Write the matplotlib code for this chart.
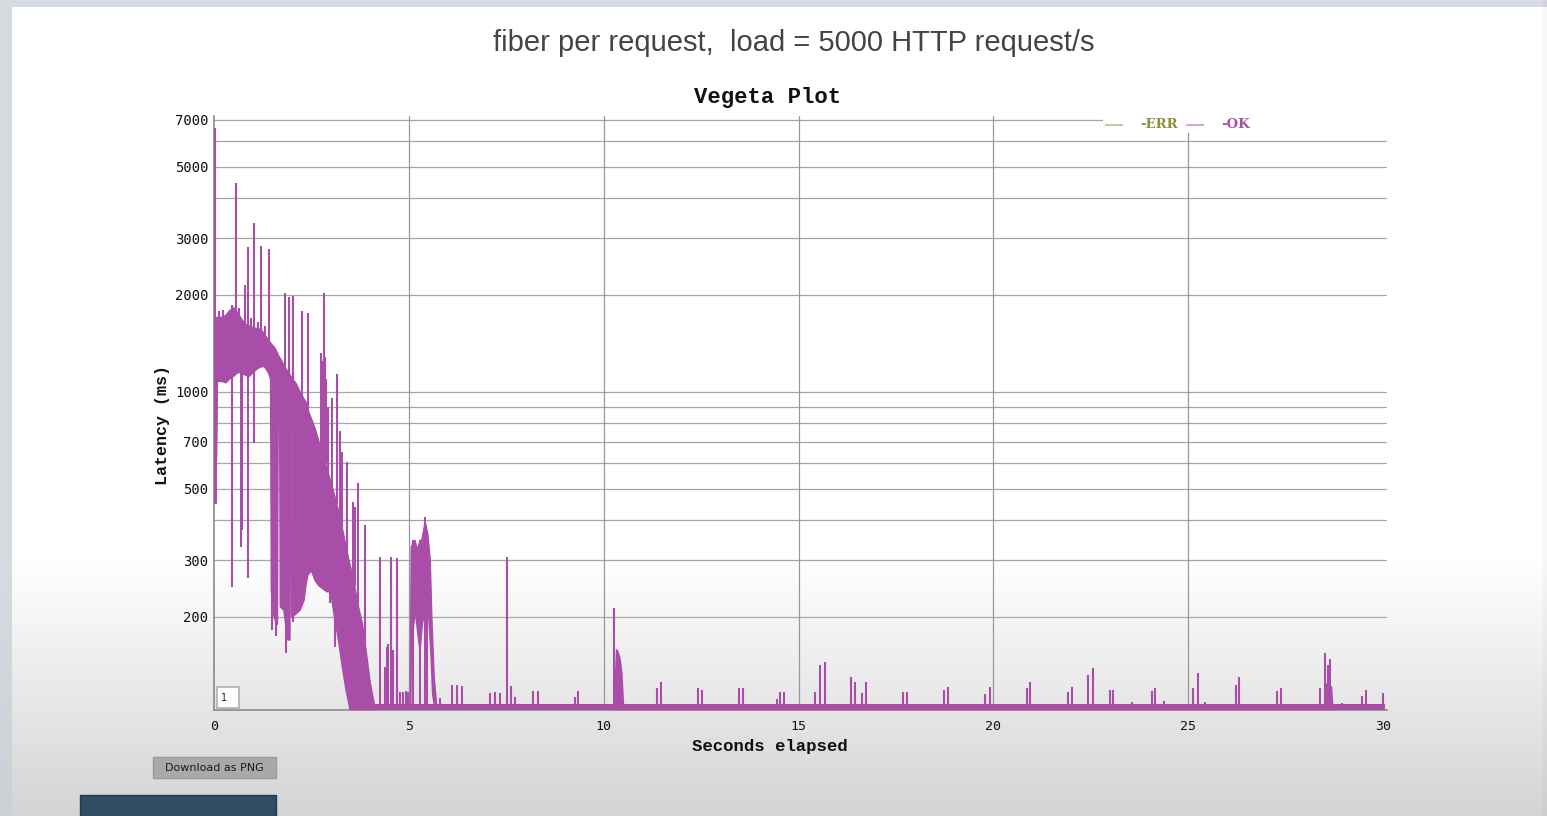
import numpy as np
import matplotlib
matplotlib.use("Agg")
import matplotlib.pyplot as plt
from matplotlib.patches import Rectangle
from matplotlib.lines import Line2D

# ---------------------------------------------------------------- data
# dense band of responses while the initial backlog drains (seconds, ms)
band_t = [0.00, 0.06, 0.08, 0.20, 0.30, 0.40, 0.50, 0.60, 0.70, 0.80, 0.90,
          1.00, 1.10, 1.20, 1.30, 1.40, 1.46, 1.48, 1.55, 1.62, 1.64, 1.69,
          1.71, 1.80, 1.90, 1.94, 1.95, 1.99, 2.00, 2.10, 2.20, 2.30, 2.35,
          2.40, 2.50, 2.60, 2.70, 2.80, 2.90, 3.00, 3.10, 3.20, 3.30, 3.40,
          3.50, 3.60, 3.70, 3.80, 3.90, 4.00, 4.10]
band_hi = [1550, 1650, 1700, 1700, 1720, 1780, 1820, 1760, 1680, 1620, 1600,
           1580, 1570, 1560, 1500, 1440, 1410, 1400, 1370, 1320, 1300, 1270,
           1260, 1200, 1150, 1130, 1120, 1110, 1100, 1060, 1000, 950, 930,
           880, 820, 760, 690, 630, 570, 520, 470, 420, 370, 320,
           285, 250, 215, 190, 155, 125, 108]
band_lo = [630, 630, 1080, 1080, 1070, 1100, 1120, 1150, 1150, 1130, 1120,
           1150, 1180, 1200, 1200, 1150, 1100, 240, 200, 190, 1000, 1000,
           215, 210, 170, 170, 950, 950, 200, 205, 210, 225, 250,
           270, 280, 260, 250, 245, 240, 240, 200, 170, 140, 118,
           103, 103, 103, 103, 103, 103, 103]

# second burst around 5 s
burst_t = [5.04, 5.07, 5.15, 5.22, 5.28, 5.35, 5.42, 5.48, 5.54, 5.58, 5.64, 5.70]
burst_hi = [104, 330, 345, 320, 340, 350, 390, 360, 300, 200, 130, 108]
burst_lo = [103, 160, 200, 170, 150, 190, 210, 200, 150, 115, 104, 103]

# short bursts later in the run
gc_t = [10.24, 10.30, 10.36, 10.42, 10.47, 10.52, 28.46, 28.52, 28.60, 28.68, 28.72]
gc_hi = [104, 160, 158, 150, 135, 104, 104, 125, 124, 122, 104]

# individual outliers around the dense band: time, low end, high end
stroke_t = [0.02, 0.56, 0.80, 0.86, 1.02, 1.20, 1.41, 1.83, 1.92, 2.03, 2.25,
            2.40, 2.81, 3.02, 3.15, 3.23, 3.28, 3.41, 3.56, 3.62, 3.70, 3.87,
            0.12, 0.22, 0.35, 0.47, 0.64, 0.95, 1.12, 1.32,
            2.74, 2.77, 2.84, 2.88, 2.93,
            0.00, 0.04, 0.45, 0.69, 0.71, 0.88, 1.03, 1.49, 1.58, 1.86, 2.03,
            2.72, 2.98, 3.10]
stroke_lo = [1200, 1500, 1400, 1400, 1400, 1400, 1300, 1000, 1000, 1000, 900,
             800, 600, 500, 450, 400, 350, 300, 250, 250, 200, 150,
             1500, 1500, 1500, 1500, 1500, 1400, 1400, 1300,
             600, 600, 600, 600, 500,
             450, 450, 248, 330, 372, 264, 694, 182, 175, 155, 193,
             255, 221, 161]
stroke_hi = [6600, 4460, 2150, 2825, 3346, 2840, 2774, 2033, 1970, 1990, 1787,
             1760, 2030, 960, 1140, 757, 650, 605, 455, 440, 520, 386,
             1780, 1800, 1760, 1860, 1820, 1700, 1650, 1600,
             1320, 1250, 1280, 1100, 900,
             1200, 1200, 1200, 1200, 1200, 1200, 1200, 400, 400, 400, 400,
             400, 400, 300]

# spikes above the steady-state floor: time, peak latency
spike_t = [4.26, 4.40, 4.43, 4.47, 4.54, 4.59, 4.70, 4.78, 4.86, 4.92, 4.98,
           5.10, 5.29, 5.41, 5.47, 5.80, 6.10, 6.23, 6.36, 7.08, 7.21, 7.34,
           7.51, 7.62, 7.72, 8.19, 8.31, 9.26, 9.34, 10.27, 11.37, 11.47,
           12.42, 12.52, 13.47, 13.57, 14.44, 14.52, 14.63, 15.42, 15.55, 15.68,
           16.34, 16.45, 16.62, 16.73, 17.68, 17.78, 18.73, 18.84, 19.78, 19.90,
           20.85, 20.95, 21.92, 22.02, 22.43, 22.56, 22.99, 23.07, 23.55, 24.06,
           24.15, 24.39, 25.13, 25.24, 25.44, 26.22, 26.31, 27.29, 27.39, 28.38,
           28.51, 28.58, 28.65, 28.94, 29.45, 29.56, 29.99]
spike_v = [308, 140, 161, 165, 308, 158, 305, 117, 117, 118, 117,
           347, 347, 410, 365, 112, 123, 123, 122, 116, 117, 116,
           308, 122, 113, 118, 118, 113, 118, 213, 120, 126,
           120, 119, 120, 120, 111, 117, 117, 117, 142, 145,
           130, 126, 116, 126, 117, 117, 119, 121, 115, 121,
           120, 126, 117, 121, 132, 139, 119, 119, 109, 118,
           120, 110, 120, 134, 109, 123, 130, 118, 120, 120,
           155, 142, 148, 108, 114, 119, 116]

# steady-state floor
floor_t = [3.50, 30.05]
floor_lo = [103, 103]
floor_hi = [107, 107]

y_major = [200, 300, 500, 700, 1000, 2000, 3000, 5000, 7000]
y_minor = [400, 600, 800, 900, 4000, 6000]
x_ticks = [0, 5, 10, 15, 20, 25, 30]

OK_COLOR = "#a84ea8"
ERR_COLOR = "#8e8e3c"

# ---------------------------------------------------------------- figure
W, H = 1547, 816
fig = plt.figure(figsize=(W / 100, H / 100), dpi=100)

# page background: screen border and bottom shading
bg = fig.add_axes([0, 0, 1, 1], zorder=-10)
bg.set_axis_off()
rows = np.arange(H)
shade = np.clip((rows - 560) / (H - 560), 0, 1)
col = 1.0 - 0.17 * shade
img = np.ones((H, W, 3)) * col[:, None, None]
border = np.array([0.84, 0.86, 0.89])
img[:7, :, :] = border
img[:, :12, :] = (border[None, :] * (1 - 0.05 * shade[:, None]))[:, None, :]
img[:, W - 4:, :] = img[:, W - 4:, :] * 0.97
bg.imshow(img, extent=[0, 1, 0, 1], aspect="auto")
bg.set_xlim(0, 1)
bg.set_ylim(0, 1)

def fx(px):
    return px / W

def fy(py):
    return 1 - py / H

fig.text(fx(794), fy(43), "fiber per request,  load = 5000 HTTP request/s",
         ha="center", va="center", fontsize=21, color="#444444",
         family="Liberation Sans")

ax = fig.add_axes([fx(214), fy(710), fx(1387) - fx(214), fy(116) - fy(710)])
ax.patch.set_alpha(0)
ax.set_yscale("log")
ax.set_xlim(0, 30.1)
ax.set_ylim(102.8, 7190)

for v in y_major + y_minor:
    ax.axhline(v, color="#a6a6a6", lw=0.9, zorder=1)
for v in x_ticks[1:-1]:
    ax.axvline(v, color="#989898", lw=0.9, zorder=1)

lw = 1.5
ax.fill_between(band_t, band_lo, band_hi, color=OK_COLOR, lw=0, zorder=3)
ax.plot(band_t, band_hi, color=OK_COLOR, lw=lw, zorder=3)
ax.plot(band_t, band_lo, color=OK_COLOR, lw=lw, zorder=3)
ax.fill_between(burst_t, burst_lo, burst_hi, color=OK_COLOR, lw=0, zorder=3)
ax.plot(burst_t, burst_hi, color=OK_COLOR, lw=lw, zorder=3)
ax.fill_between(gc_t, 103, gc_hi, color=OK_COLOR, lw=0, zorder=3)
ax.vlines(stroke_t, stroke_lo, stroke_hi, color=OK_COLOR, lw=lw, zorder=3)
ax.vlines(spike_t, 103, spike_v, color=OK_COLOR, lw=lw, zorder=3)
ax.fill_between(floor_t, floor_lo, floor_hi, color=OK_COLOR, lw=0, zorder=4)

ax.set_yticks(y_major)
ax.set_yticklabels([str(v) for v in y_major])
ax.yaxis.set_minor_locator(matplotlib.ticker.NullLocator())
ax.set_xticks(x_ticks)
ax.set_xticklabels([str(v) for v in x_ticks])
ax.tick_params(length=0, labelsize=10, labelcolor="#111111", pad=4)
for lab in ax.get_xticklabels() + ax.get_yticklabels():
    lab.set_family("DejaVu Sans Mono")
ax.tick_params(axis="x", labelsize=9.5, pad=7)

for s in ("top", "right"):
    ax.spines[s].set_visible(False)
for s in ("left", "bottom"):
    ax.spines[s].set_color("#8a8a8a")
    ax.spines[s].set_linewidth(1.2)

fig.text(fx(770), fy(746), "Seconds elapsed", ha="center", va="center",
         family="Liberation Mono", fontweight="bold", fontsize=12.5,
         color="#111111")
fig.text(fx(162), fy(425), "Latency (ms)", ha="center", va="center",
         rotation=90, family="Liberation Mono", fontweight="bold",
         fontsize=12, color="#111111")
fig.text(fx(768), fy(97), "Vegeta Plot", ha="center", va="center",
         family="Liberation Mono", fontweight="bold", fontsize=16, color="#111111")

# legend strip
fig.patches.append(Rectangle((fx(1103), fy(133)), fx(1395) - fx(1103),
                             fy(110) - fy(133), transform=fig.transFigure,
                             facecolor="white", edgecolor="none", zorder=5))
fig.lines.append(Line2D([fx(1106), fx(1122)], [fy(125), fy(125)],
                        transform=fig.transFigure, color="#c9c9a0", lw=1.5, zorder=6))
fig.text(fx(1140), fy(125), "-ERR", va="center", ha="left", color=ERR_COLOR,
         family="DejaVu Serif", fontweight="bold", fontsize=9.5, zorder=6)
fig.lines.append(Line2D([fx(1187), fx(1203)], [fy(125), fy(125)],
                        transform=fig.transFigure, color="#d9a6d9", lw=1.5, zorder=6))
fig.text(fx(1221), fy(125), "-OK", va="center", ha="left", color=OK_COLOR,
         family="DejaVu Serif", fontweight="bold", fontsize=9.5, zorder=6)

# roll-period input box
fig.patches.append(Rectangle((fx(217), fy(708)), fx(22), 21 / H,
                             transform=fig.transFigure, facecolor="white",
                             edgecolor="#b0b0b0", lw=1.2, zorder=6))
fig.text(fx(221), fy(698), "1", va="center", ha="left", fontsize=7,
         color="#222222", family="DejaVu Sans", zorder=7)

# download button and the panel below it
fig.patches.append(Rectangle((fx(153), fy(778)), fx(123), 21 / H,
                             transform=fig.transFigure, facecolor="#a9a9a9",
                             edgecolor="#9a9a9a", lw=1, zorder=6))
fig.text(fx(214.5), fy(768), "Download as PNG", va="center", ha="center",
         fontsize=8, color="#1a1a1a", family="DejaVu Sans", zorder=7)
fig.patches.append(Rectangle((fx(80), 0), fx(196), 21 / H,
                             transform=fig.transFigure, facecolor="#2f4d61",
                             edgecolor="#1f3b4e", lw=1, zorder=6))

fig.savefig("out.png", dpi=100)
